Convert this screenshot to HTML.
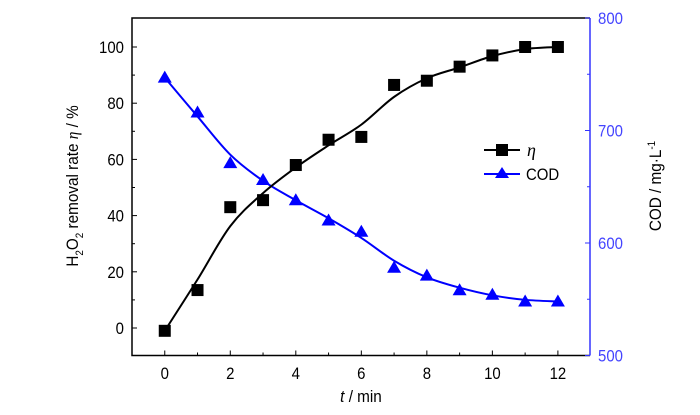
<!DOCTYPE html>
<html><head><meta charset="utf-8"><style>
body{margin:0;background:#fff}
svg{display:block;font-family:"Liberation Sans",Arial,sans-serif}
</style></head><body>
<svg id="chart" width="700" height="415"></svg>
<script>
const xCats=[0,1,2,3,4,5,6,7,8,9,10,11,12];
const etaVals=[-1,13.5,43,45.5,58,67,68,86.5,88,93,97,100,100];
const codVals=[747,716,671,656,638,620,610,578,571,558,554,548,548];
const xTicks=[0,2,4,6,8,10,12];
const yTicks=[0,20,40,60,80,100];
const y2Ticks=[500,600,700,800];
const NS="http://www.w3.org/2000/svg";
const svg=document.getElementById('chart');
const L=132,R=590,T=18,B=355.5;
const xs=v=>L+(v+1)*(R-L)/13.98;
const ys=v=>328-v*2.81;
const y2s=v=>B-(v-500)*(B-T)/300;
function mk(tag,attrs,name,parent){const e=document.createElementNS(NS,tag);for(const k in attrs)e.setAttribute(k,attrs[k]);


(parent||svg).appendChild(e);return e;}
function txt(s,attrs,name,sx){const x=+attrs.x||0,y=+attrs.y||0;
if(sx&&!attrs.transform){attrs.transform=`translate(${x},${y}) scale(0.88,1)`;attrs.x=0;attrs.y=0;}
const e=mk('text',attrs,name);e.textContent=s;return e;}
mk('path',{d:`M${R},${T}H${L}V${B}H${R}`,fill:'none',stroke:'#000','stroke-width':1.5},'plot-frame');
mk('line',{x1:R,y1:T,x2:R,y2:B,stroke:'#33f','stroke-width':1.5},'right-axis-line');
for(let i=0;i<=12;i++){mk('line',{x1:xs(i),y1:B,x2:xs(i),y2:B-(i%2?3:5),stroke:'#000','stroke-width':1},'x-tick');}
xTicks.forEach(v=>txt(v,{x:xs(v),y:379,'text-anchor':'middle','font-size':17},'x-tick-label',1));
for(let v=0;v<=100;v+=10){mk('line',{x1:L,y1:ys(v),x2:L+(v%20?3:5),y2:ys(v),stroke:'#000'},'y-tick');}
yTicks.forEach(v=>txt(v,{x:124,y:ys(v)+6,'text-anchor':'end','font-size':17},'y-tick-label',1));
for(let v=500;v<=800;v+=50){mk('line',{x1:R,y1:y2s(v),x2:R-(v%100?3:5),y2:y2s(v),stroke:'#33f'},'y2-tick');}
y2Ticks.forEach(v=>txt(v,{x:598,y:y2s(v)+6,'font-size':17,fill:'#44f'},'y2-tick-label',1));
const xt=txt('',{transform:'translate(361,402) scale(0.9,1)','text-anchor':'middle','font-size':17},'x-axis-title');
xt.innerHTML='<tspan font-style="italic">t</tspan> / min';
const yt=txt('',{transform:'translate(78,186) rotate(-90) scale(0.9,1)','text-anchor':'middle','font-size':17},'y-axis-title');
yt.innerHTML='H<tspan font-size="11" dy="5">2</tspan><tspan dy="-5">O</tspan><tspan font-size="11" dy="5">2</tspan><tspan dy="-5"> removal rate </tspan><tspan font-family="Liberation Serif" font-style="italic">η</tspan> / %';
const y2t=txt('',{transform:'translate(661,186) rotate(-90) scale(0.9,1)','text-anchor':'middle','font-size':17},'y2-axis-title');
y2t.innerHTML='COD / mg·L<tspan font-size="11" dy="-6">-1</tspan>';
function smoothVals(a){return a.map((v,i)=>(i===0||i===a.length-1)?v:0.25*a[i-1]+0.5*v+0.25*a[i+1]);}
function smooth(pts){let d=`M${pts[0][0]},${pts[0][1]}`;for(let i=0;i<pts.length-1;i++){const p0=pts[i-1]||pts[i],p1=pts[i],p2=pts[i+1],p3=pts[i+2]||p2;
d+=` C${p1[0]+(p2[0]-p0[0])/6},${p1[1]+(p2[1]-p0[1])/6} ${p2[0]-(p3[0]-p1[0])/6},${p2[1]-(p3[1]-p1[1])/6} ${p2[0]},${p2[1]}`;}return d;}
const es=smoothVals(etaVals),cs=smoothVals(codVals);
const ep=xCats.map((c,i)=>[xs(c),ys(etaVals[i])]);
const cp=xCats.map((c,i)=>[xs(c),y2s(codVals[i])]);
mk('path',{d:smooth(xCats.map((c,i)=>[xs(c),y2s(cs[i])])),fill:'none',stroke:'#00f','stroke-width':2},'cod-line');
mk('path',{d:smooth(xCats.map((c,i)=>[xs(c),ys(es[i])])),fill:'none',stroke:'#000','stroke-width':2},'eta-line');
cp.forEach(p=>mk('polygon',{points:`${p[0]},${p[1]-7} ${p[0]-7},${p[1]+5} ${p[0]+7},${p[1]+5}`,fill:'#00f'},'cod-point'));
ep.forEach(p=>mk('rect',{x:p[0]-6,y:p[1]-6,width:12,height:12,fill:'#000'},'eta-point'));
mk('line',{x1:484,y1:150,x2:520,y2:150,stroke:'#000','stroke-width':2},'legend-eta-line');
mk('rect',{x:496,y:144,width:12,height:12,fill:'#000'},'legend-eta-marker');
txt('η',{x:527,y:156,'font-size':18,'font-style':'italic','font-family':'Liberation Serif'},'legend-eta-label');
mk('line',{x1:484,y1:174,x2:520,y2:174,stroke:'#00f','stroke-width':2},'legend-cod-line');
mk('polygon',{points:'502,167 495,178 509,178',fill:'#00f'},'legend-cod-marker');
txt('COD',{x:526,y:180,'font-size':17},'legend-cod-label',1);
</script>
</body></html>
